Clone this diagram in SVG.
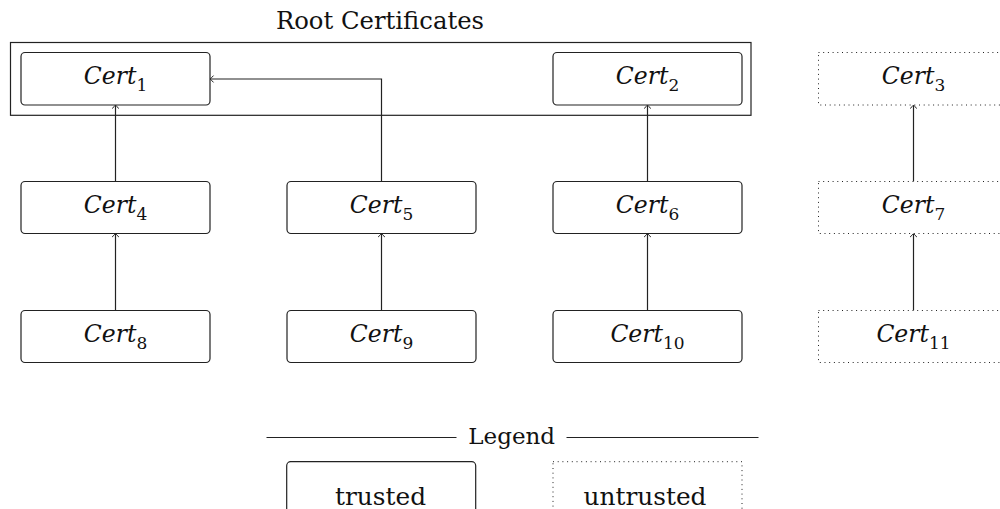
<svg xmlns="http://www.w3.org/2000/svg" width="1000" height="509" viewBox="0 0 1000 509">
  <style>
    .box { fill: #fff; stroke: #222; stroke-width: 1.2; }
    .dot { fill: #fff; stroke: #222; stroke-width: 1; stroke-dasharray: 1 3.7; }
    .frame { fill: none; stroke: #222; stroke-width: 1.2; }
    .edge { fill: none; stroke: #222; stroke-width: 1.2; marker-end: url(#tip); }
    .rule { stroke: #222; stroke-width: 1.2; }
    .lbl { font-family: "DejaVu Serif", serif; font-size: 23.5px; fill: #111; text-anchor: middle; }
    .lbl .n { font-style: italic; }
    .lbl .s { font-size: 17px; }
    .plain { font-family: "DejaVu Serif", serif; font-size: 23px; fill: #111; text-anchor: middle; }
    .title { font-size: 24.3px; }
    .key { font-size: 24.8px; }
  </style>
  <defs>
    <marker id="tip" markerUnits="userSpaceOnUse" markerWidth="10" markerHeight="10" viewBox="-5 -5 10 10" refX="0" refY="0" orient="auto">
      <path d="M-3,-3.4 Q-0.8,-0.9 0.4,0 Q-0.8,0.9 -3,3.4" fill="none" stroke="#222" stroke-width="1"/>
    </marker>
  </defs>

  <!-- root certificate frame -->
  <g id="root">
    <text class="plain title" x="380" y="28.5">Root Certificates</text>
    <rect class="frame" x="10.5" y="42.5" width="740.5" height="72.8"/>
  </g>

  <!-- connectors -->
  <g id="edges">
    <path class="edge" d="M115.5,181.5 V105.5"/>
    <path class="edge" d="M381.5,181.5 V79 H210.5"/>
    <path class="edge" d="M647.5,181.5 V105.5"/>
    <path class="edge" d="M913.5,181.5 V105.5"/>
    <path class="edge" d="M115.5,310.5 V234"/>
    <path class="edge" d="M381.5,310.5 V234"/>
    <path class="edge" d="M647.5,310.5 V234"/>
    <path class="edge" d="M913.5,310.5 V234"/>
  </g>

  <!-- row 1 -->
  <g id="cert1">
    <rect class="box" x="21" y="52.5" width="189" height="52.5" rx="4"/>
    <text class="lbl" x="115.5" y="84.3"><tspan class="n">Cert</tspan><tspan class="s" dy="6.5">1</tspan></text>
  </g>
  <g id="cert2">
    <rect class="box" x="553" y="52.5" width="189" height="52.5" rx="4"/>
    <text class="lbl" x="647.5" y="84.3"><tspan class="n">Cert</tspan><tspan class="s" dy="6.5">2</tspan></text>
  </g>
  <g id="cert3">
    <rect class="dot" x="818.5" y="52.5" width="189" height="52.5"/>
    <text class="lbl" x="913.5" y="84.3"><tspan class="n">Cert</tspan><tspan class="s" dy="6.5">3</tspan></text>
  </g>

  <!-- row 2 -->
  <g id="cert4">
    <rect class="box" x="21" y="181.5" width="189" height="52" rx="4"/>
    <text class="lbl" x="115.5" y="213"><tspan class="n">Cert</tspan><tspan class="s" dy="6.5">4</tspan></text>
  </g>
  <g id="cert5">
    <rect class="box" x="287" y="181.5" width="189" height="52" rx="4"/>
    <text class="lbl" x="381.5" y="213"><tspan class="n">Cert</tspan><tspan class="s" dy="6.5">5</tspan></text>
  </g>
  <g id="cert6">
    <rect class="box" x="553" y="181.5" width="189" height="52" rx="4"/>
    <text class="lbl" x="647.5" y="213"><tspan class="n">Cert</tspan><tspan class="s" dy="6.5">6</tspan></text>
  </g>
  <g id="cert7">
    <rect class="dot" x="818.5" y="181.5" width="189" height="52"/>
    <text class="lbl" x="913.5" y="213"><tspan class="n">Cert</tspan><tspan class="s" dy="6.5">7</tspan></text>
  </g>

  <!-- row 3 -->
  <g id="cert8">
    <rect class="box" x="21" y="310.5" width="189" height="52" rx="4"/>
    <text class="lbl" x="115.5" y="342"><tspan class="n">Cert</tspan><tspan class="s" dy="6.5">8</tspan></text>
  </g>
  <g id="cert9">
    <rect class="box" x="287" y="310.5" width="189" height="52" rx="4"/>
    <text class="lbl" x="381.5" y="342"><tspan class="n">Cert</tspan><tspan class="s" dy="6.5">9</tspan></text>
  </g>
  <g id="cert10">
    <rect class="box" x="553" y="310.5" width="189" height="52" rx="4"/>
    <text class="lbl" x="647.5" y="342"><tspan class="n">Cert</tspan><tspan class="s" dy="6.5">10</tspan></text>
  </g>
  <g id="cert11">
    <rect class="dot" x="818.5" y="310.5" width="189" height="52"/>
    <text class="lbl" x="913.5" y="342"><tspan class="n">Cert</tspan><tspan class="s" dy="6.5">11</tspan></text>
  </g>

  <!-- legend -->
  <g id="legend">
    <line class="rule" x1="266.5" y1="437.5" x2="456.5" y2="437.5"/>
    <text class="plain" x="511.7" y="444">Legend</text>
    <line class="rule" x1="566.5" y1="437.5" x2="758.5" y2="437.5"/>
  </g>
  <g id="legend-trusted">
    <rect class="box" x="286.7" y="461.7" width="189" height="52" rx="4"/>
    <text class="plain key" x="380.5" y="505">trusted</text>
  </g>
  <g id="legend-untrusted">
    <rect class="dot" x="553" y="461.7" width="189" height="52"/>
    <text class="plain key" x="645" y="505">untrusted</text>
  </g>
</svg>
